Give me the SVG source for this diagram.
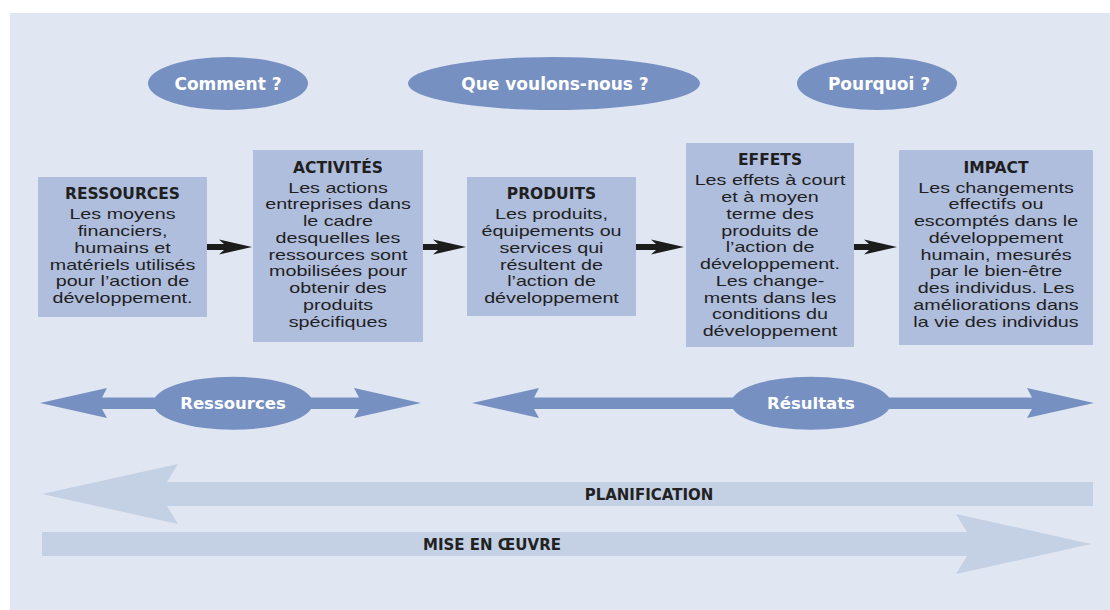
<svg xmlns="http://www.w3.org/2000/svg" width="1110" height="610" viewBox="0 0 1110 610">
<style>
.bg{fill:#e0e6f2}
.box{fill:#b0bede}
.oval{fill:#7690c2}
.big{fill:#c4d0e4}
.blk{fill:#1c1c1c}
.ol{font-family:"DejaVu Sans",sans-serif;font-weight:bold;fill:#ffffff;text-anchor:middle}
.tt{font-family:"DejaVu Sans",sans-serif;font-weight:bold;font-size:15.5px;fill:#1f1f1f;text-anchor:middle}
.bd{font-family:"Liberation Sans",Arial,sans-serif;font-size:14.6px;fill:#1f1f1f;text-anchor:middle}
.bl{font-family:"DejaVu Sans",sans-serif;font-weight:bold;font-size:15px;fill:#222222;text-anchor:middle}
</style>
<rect class="bg" x="10" y="13" width="1100" height="597"/>

<g id="q-comment">
<ellipse class="oval" cx="228" cy="83.5" rx="80" ry="26.5"/>
<text class="ol" x="228" y="89.5" font-size="17">Comment ?</text>
</g>
<g id="q-que">
<ellipse class="oval" cx="554" cy="83.5" rx="146" ry="26.5"/>
<text class="ol" x="555" y="89.5" font-size="17">Que voulons-nous ?</text>
</g>
<g id="q-pourquoi">
<ellipse class="oval" cx="877" cy="83.5" rx="80" ry="26.5"/>
<text class="ol" x="879" y="89.5" font-size="17">Pourquoi ?</text>
</g>

<g id="ressources">
<rect class="box" x="38" y="177" width="169" height="140"/>
<text class="tt" x="122.5" y="199">RESSOURCES</text>
<g transform="translate(122.5 0) scale(1.35 1)">
<text class="bd" x="0" y="219.5">Les moyens</text>
<text class="bd" x="0" y="236.2">financiers,</text>
<text class="bd" x="0" y="252.9">humains et</text>
<text class="bd" x="0" y="269.6">matériels utilisés</text>
<text class="bd" x="0" y="286.3">pour l’action de</text>
<text class="bd" x="0" y="303">développement.</text>
</g>
</g>

<g id="activites">
<rect class="box" x="253" y="150" width="170" height="192"/>
<text class="tt" x="338" y="173.3">ACTIVITÉS</text>
<g transform="translate(338 0) scale(1.35 1)">
<text class="bd" x="0" y="192.7">Les actions</text>
<text class="bd" x="0" y="209.45">entreprises dans</text>
<text class="bd" x="0" y="226.2">le cadre</text>
<text class="bd" x="0" y="242.95">desquelles les</text>
<text class="bd" x="0" y="259.7">ressources sont</text>
<text class="bd" x="0" y="276.45">mobilisées pour</text>
<text class="bd" x="0" y="293.2">obtenir des</text>
<text class="bd" x="0" y="309.95">produits</text>
<text class="bd" x="0" y="326.7">spécifiques</text>
</g>
</g>

<g id="produits">
<rect class="box" x="467" y="177" width="169" height="139"/>
<text class="tt" x="551.5" y="199">PRODUITS</text>
<g transform="translate(551.5 0) scale(1.35 1)">
<text class="bd" x="0" y="219.5">Les produits,</text>
<text class="bd" x="0" y="236.2">équipements ou</text>
<text class="bd" x="0" y="252.9">services qui</text>
<text class="bd" x="0" y="269.6">résultent de</text>
<text class="bd" x="0" y="286.3">l’action de</text>
<text class="bd" x="0" y="303">développement</text>
</g>
</g>

<g id="effets">
<rect class="box" x="686" y="143" width="168" height="204"/>
<text class="tt" x="770" y="165">EFFETS</text>
<g transform="translate(770 0) scale(1.35 1)">
<text class="bd" x="0" y="185.5">Les effets à court</text>
<text class="bd" x="0" y="202.25">et à moyen</text>
<text class="bd" x="0" y="219">terme des</text>
<text class="bd" x="0" y="235.75">produits de</text>
<text class="bd" x="0" y="252.5">l’action de</text>
<text class="bd" x="0" y="269.25">développement.</text>
<text class="bd" x="0" y="286">Les change-</text>
<text class="bd" x="0" y="302.75">ments dans les</text>
<text class="bd" x="0" y="319.5">conditions du</text>
<text class="bd" x="0" y="336.25">développement</text>
</g>
</g>

<g id="impact">
<rect class="box" x="899" y="150" width="194" height="195"/>
<text class="tt" x="996" y="172.5">IMPACT</text>
<g transform="translate(996 0) scale(1.35 1)">
<text class="bd" x="0" y="192.7">Les changements</text>
<text class="bd" x="0" y="209.45">effectifs ou</text>
<text class="bd" x="0" y="226.2">escomptés dans le</text>
<text class="bd" x="0" y="242.95">développement</text>
<text class="bd" x="0" y="259.7">humain, mesurés</text>
<text class="bd" x="0" y="276.45">par le bien-être</text>
<text class="bd" x="0" y="293.2">des individus. Les</text>
<text class="bd" x="0" y="309.95">améliorations dans</text>
<text class="bd" x="0" y="326.7">la vie des individus</text>
</g>
</g>

<g id="connectors">
<polygon class="blk" points="207,244 224,244 219,239.5 252,247 219,254.5 224,250 207,250"/>
<polygon class="blk" points="423,244 438,244 433,239.5 466,247 433,254.5 438,250 423,250"/>
<polygon class="blk" points="636,244 656,244 651,239.5 684,247 651,254.5 656,250 636,250"/>
<polygon class="blk" points="854,244 869,244 864,239.5 897,247 864,254.5 869,250 854,250"/>
</g>

<g id="span-ressources">
<polygon class="oval" points="40,403 107,388 102,397.5 359,397.5 354,388 421,403 354,418 359,409 102,409 107,418"/>
<ellipse class="oval" cx="233" cy="403.3" rx="80" ry="26.5"/>
<text class="ol" x="233" y="409" font-size="16.5">Ressources</text>
</g>
<g id="span-resultats">
<polygon class="oval" points="472,403 539,388 534,397.5 1032,397.5 1027,388 1094,403 1027,418 1032,409 534,409 539,418"/>
<ellipse class="oval" cx="811" cy="403.3" rx="80" ry="26.5"/>
<text class="ol" x="811" y="409" font-size="16.5">Résultats</text>
</g>

<g id="planification">
<polygon class="big" points="42,494 178,464 167,482 1093,482 1093,506 167,506 178,524"/>
<text class="bl" x="649" y="499.5">PLANIFICATION</text>
</g>
<g id="mise-en-oeuvre">
<polygon class="big" points="42,532 967,532 956,514 1091,544 956,574 967,556 42,556"/>
<text class="bl" x="492" y="549.5">MISE EN ŒUVRE</text>
</g>
</svg>
